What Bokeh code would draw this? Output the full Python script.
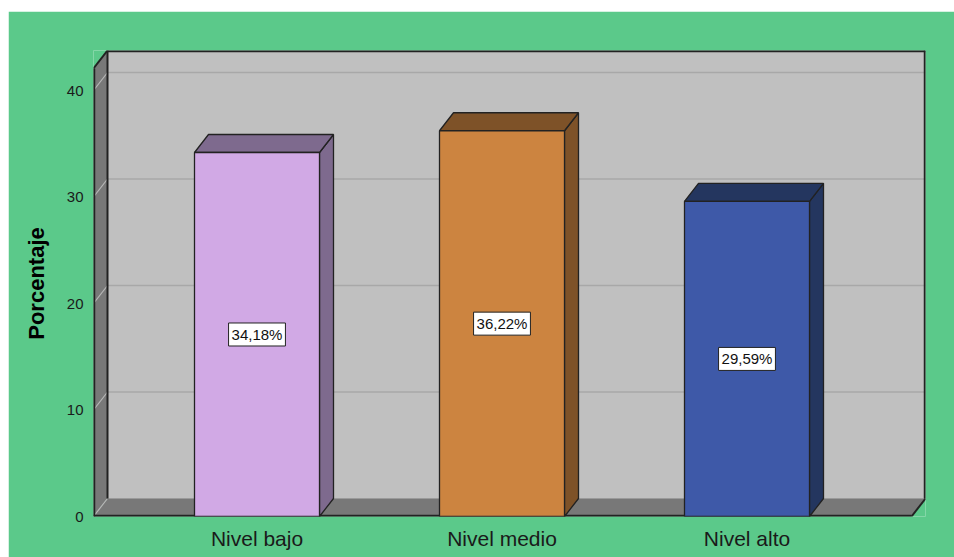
from bokeh.plotting import figure
from bokeh.models import FixedTicker, Range1d, ColumnDataSource
from bokeh.core.properties import value
from bokeh.embed import file_html
from bokeh.resources import INLINE

# ---- data ----
categories = ["Nivel bajo", "Nivel medio", "Nivel alto"]
percentages = [34.18, 36.22, 29.59]
value_labels = ["34,18%", "36,22%", "29,59%"]
y_ticks = [0, 10, 20, 30, 40]
front_colors = ["#D1A9E5", "#CC8440", "#3E59A8"]
shade_colors = ["#7E6A8E", "#7E5228", "#24365F"]

# ---- geometry (pixel scale of the reference) ----
PX_X = 245.0      # px per category step
PX_Y = 10.65      # px per percent
DX = 14 / PX_X    # depth offset in x units
DY = 18 / PX_Y    # depth offset in y units
HALF = 62.5 / PX_X
XA = 1 - 163.5 / PX_X          # front-left of floor/axis
XB = 3 + 164.5 / PX_X          # front-right of floor
YT = 448 / PX_Y                # front top of left wall

FONT = "Liberation Sans"
GREEN = "#5BC98A"
EDGE = "#222222"

xs_cat = [i + 1 for i in range(len(categories))]

p = figure(width=946, height=546, output_backend="svg", toolbar_location=None,
           x_range=Range1d(XA, XB + DX),
           y_range=Range1d(0, YT + DY),
           min_border_left=85, min_border_right=29, min_border_top=39, min_border_bottom=41,
           background_fill_color=GREEN, border_fill_color=GREEN,
           outline_line_color=None, margin=(11, 0, 0, 8))
p.xgrid.visible = False
p.ygrid.visible = False

# walls and floor
p.patch([XA + DX, XB + DX, XB + DX, XA + DX], [DY, DY, YT + DY, YT + DY],
        fill_color="#C0C0C0", line_color=None)
p.patch([XA, XA + DX, XA + DX, XA], [0, DY, YT + DY, YT],
        fill_color="#787878", line_color=None)
p.patch([XA, XB, XB + DX, XA + DX], [0, 0, DY, DY],
        fill_color="#787878", line_color=None)

# gridlines
grid_back_x, grid_back_y, grid_diag_x, grid_diag_y = [], [], [], []
for t in y_ticks:
    if t > 0:
        grid_back_x.append([XA + DX, XB + DX])
        grid_back_y.append([t + DY, t + DY])
    grid_diag_x.append([XA, XA + DX])
    grid_diag_y.append([t, t + DY])
p.multi_line(grid_back_x, grid_back_y, line_color="#A8A8A8", line_width=1.5)
p.multi_line(grid_diag_x, grid_diag_y, line_color="#B8B8B8", line_width=1.2)
p.line([XA + DX, XB + DX], [DY, DY], line_color="#9A9A9A", line_width=1)

# dark edges (outer ones sit on the frame border, so they are drawn wider)
inner_x = [[XA, XA + DX], [XB + DX, XB], [XA + DX, XA + DX]]
inner_y = [[YT, YT + DY], [DY, 0], [DY, YT + DY]]
p.multi_line(inner_x, inner_y, line_color=EDGE, line_width=2)
outer_x = [[XA, XA], [XA + DX, XB + DX], [XB + DX, XB + DX], [XA, XB]]
outer_y = [[0, YT], [YT + DY, YT + DY], [YT + DY, DY], [0, 0]]
p.multi_line(outer_x, outer_y, line_color=EDGE, line_width=3.5)

# 3D bars
for xc, v, fc, sc in zip(xs_cat, percentages, front_colors, shade_colors):
    xl, xr = xc - HALF, xc + HALF
    p.patch([xr, xr + DX, xr + DX, xr], [0, DY, v + DY, v],
            fill_color=sc, line_color=EDGE, line_width=1.3)
    p.patch([xl, xr, xr + DX, xl + DX], [v, v, v + DY, v + DY],
            fill_color=sc, line_color=EDGE, line_width=1.3)
    p.patch([xl, xr, xr, xl], [0, 0, v, v],
            fill_color=fc, line_color=EDGE, line_width=1.3)

# value labels
src = ColumnDataSource(dict(x=xs_cat, y=[v / 2 for v in percentages], t=value_labels))
p.text(x="x", y="y", text="t", source=src, text_font=value(FONT),
       text_font_size="15px", text_color="#111111", text_align="center",
       text_baseline="middle", background_fill_color="white",
       border_line_color="#222222", border_line_width=1, padding=3)

# axes
p.yaxis.ticker = FixedTicker(ticks=y_ticks)
p.yaxis.axis_line_color = None
p.yaxis.major_tick_line_color = None
p.yaxis.minor_tick_line_color = None
p.yaxis.major_label_standoff = 4
p.yaxis.major_label_text_font = FONT
p.yaxis.major_label_text_font_size = "15px"
p.yaxis.major_label_text_color = "#1a1a1a"
p.yaxis.axis_label = "Porcentaje"
p.yaxis.axis_label_text_font = FONT
p.yaxis.axis_label_text_font_style = "bold"
p.yaxis.axis_label_text_font_size = "22px"
p.yaxis.axis_label_text_color = "#000000"
p.yaxis.axis_label_standoff = 15

p.xaxis.ticker = FixedTicker(ticks=xs_cat)
p.xaxis.major_label_overrides = {x: c for x, c in zip(xs_cat, categories)}
p.xaxis.axis_line_color = None
p.xaxis.major_tick_line_color = None
p.xaxis.minor_tick_line_color = None
p.xaxis.major_label_standoff = 4
p.xaxis.major_label_text_font = FONT
p.xaxis.major_label_text_font_size = "21px"
p.xaxis.major_label_text_color = "#1a1a1a"

open("out.html", "w").write(file_html(p, INLINE))
